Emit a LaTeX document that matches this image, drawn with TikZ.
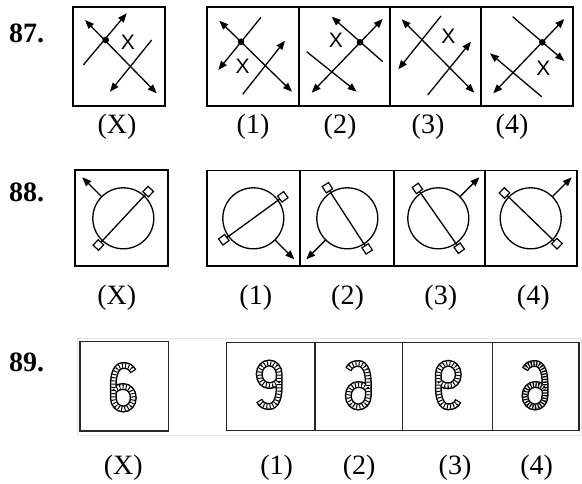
\documentclass[tikz,border=0pt]{standalone}
\usepackage{fontspec}
\setmainfont{Liberation Serif}
\newfontfamily\sansX{Liberation Sans}
\usetikzlibrary{arrows.meta}
\tikzset{
  boxl/.style={line width=1.6pt},
  ln/.style={line width=1.3pt},
  arr/.style={ln,-{Triangle[length=9pt,width=7pt]}},
  darr/.style={ln,{Triangle[length=9pt,width=7pt]}-{Triangle[length=9pt,width=7pt]}},
  qnum/.style={font=\fontsize{28}{28}\selectfont\bfseries,anchor=base west,inner sep=0},
  optlab/.style={font=\fontsize{28}{28}\selectfont,anchor=base,inner sep=0},
  xmark/.style={font=\sansX\fontsize{21}{21}\selectfont,inner sep=0},
  sq/.style={draw,fill=white,line width=1.2pt,minimum size=7.5pt,inner sep=0},
  sixp/.style={insert path={(10,15.5) .. controls (8,20) and (4.5,21.5) .. (0,21.5)
     .. controls (-7,21.5) and (-10,13) .. (-10,2) -- (-10,-10.75)
     .. controls (-10,-17.5) and (-5.5,-22) .. (0,-22)
     .. controls (5.5,-22) and (10,-17.5) .. (10,-10.75)
     .. controls (10,-4) and (5.5,0.5) .. (0,0.5)
     .. controls (-5,0.5) and (-8.5,-2) .. (-9.6,-4.5)}},
  gbox/.style={line width=1.2pt,draw=black!85}
}
\newcommand\ringfig[4]{%
  \coordinate (c) at (#1,#2);
  \draw[ln] (c) circle (30.5pt);
  \path (c) ++(#3:36.5) coordinate (p1);
  \path (c) ++(#3+180:36.5) coordinate (p2);
  \draw[ln] (p1) -- (p2);
  \node[sq,rotate=#3] at (p1) {};
  \node[sq,rotate=#3] at (p2) {};
  \path (c) ++(#4:30.5) coordinate (a1);
  \path (c) ++(#4:58) coordinate (a2);
  \draw[arr] (a1) -- (a2);
}
\newcommand\sixglyph[3]{%
  \begin{scope}[shift={(#1)},#2]
    \draw[line width=7pt,black,sixp];
    \draw[line width=4pt,white,sixp];
    \draw[line width=4pt,black,#3,sixp];
  \end{scope}
}
\begin{document}
\begin{tikzpicture}[x=1pt,y=1pt]
\useasboundingbox (0,0) rectangle (582,-483);
% ---------- 87 ----------
\node[qnum] (n87) at (9,-42) {87.};
\draw[boxl] (73,-7) rectangle (165,-106);
\draw[darr] (85,-20) -- (156.7,-93.3);
\draw[arr] (83.3,-65) -- (126.7,-13.3);
\draw[arr] (151.7,-40) -- (110,-91.7);
\fill (105.7,-40) circle (3.3pt);
\node[xmark] at (128,-42) {X};
\node[optlab] at (117,-133) {(X)};

\draw[boxl] (207,-7) rectangle (299,-106);
\draw[boxl] (299,-7) rectangle (390,-106);
\draw[boxl] (390,-7) rectangle (481,-106);
\draw[boxl] (481,-7) rectangle (573,-106);
% 1
\draw[darr] (219.3,-20.7) -- (292,-91.7);
\draw[arr] (261,-17.3) -- (218.3,-70);
\draw[arr] (242.7,-94.3) -- (285,-40.7);
\fill (241,-41.7) circle (3.3pt);
\node[xmark] at (242.7,-66) {X};
% 2
\draw[arr] (382.7,-61.7) -- (331.7,-16.7);
\draw[darr] (311.7,-92.7) -- (382.7,-19);
\draw[arr] (306.7,-51.7) -- (356.7,-91.7);
\fill (360,-42.3) circle (3.3pt);
\node[xmark] at (336,-40) {X};
% 3
\draw[darr] (401.7,-19.3) -- (474.3,-92.7);
\draw[arr] (441,-16) -- (398.3,-69.3);
\draw[arr] (427.7,-95) -- (471,-41.7);
\node[xmark] at (448.3,-36.7) {X};
% 4
\draw[arr] (512.7,-16.7) -- (564.3,-61);
\draw[darr] (493.3,-93.3) -- (564.3,-19);
\draw[arr] (541.7,-96.7) -- (490,-53.3);
\fill (542.3,-42.3) circle (3.3pt);
\node[xmark] at (543.3,-68.3) {X};
\node[optlab] at (253,-133) {(1)};
\node[optlab] at (340,-133) {(2)};
\node[optlab] at (428,-133) {(3)};
\node[optlab] at (512,-133) {(4)};
% ---------- 88 ----------
\node[qnum] (n88) at (9,-201.5) {88.};
\draw[boxl] (75,-170) rectangle (168,-266);
\ringfig{123.3}{-218.3}{47}{135}
\node[optlab] at (116.7,-304) {(X)};
\draw[boxl] (207,-170.5) rectangle (300,-266);
\draw[boxl] (300,-170.5) rectangle (394,-266);
\draw[boxl] (394,-170.5) rectangle (485,-266);
\draw[boxl] (485,-170.5) rectangle (577,-266);
\ringfig{253.3}{-218.3}{36}{-45}
\ringfig{347.3}{-218.3}{123}{-135}
\ringfig{438.3}{-218.3}{125}{45}
\ringfig{530.7}{-218.3}{136}{45}
\node[optlab] at (255.8,-304) {(1)};
\node[optlab] at (347.5,-304) {(2)};
\node[optlab] at (440.8,-304) {(3)};
\node[optlab] at (533.3,-304) {(4)};
% ---------- 89 ----------
\node[qnum] (n89) at (9,-371.5) {89.};
\draw[line width=0.6pt,black!10] (77,-338) rectangle (581.5,-435);
\draw[gbox] (80,-341.7) rectangle (168.3,-431);
\draw[gbox] (226.7,-342.3) rectangle (315,-430.7);
\draw[gbox] (315,-342.3) rectangle (402.7,-430.7);
\draw[gbox] (402.7,-342.3) rectangle (492.3,-430.7);
\draw[gbox] (492.3,-342.3) rectangle (579,-430.7);
\sixglyph{123.3,-387}{}{dash pattern=on 1pt off 2.2pt}
\sixglyph{269.2,-385}{rotate=180}{dash pattern=on 1pt off 2.2pt}
\sixglyph{358.3,-385}{xscale=-1}{dash pattern=on 1pt off 2.2pt}
\sixglyph{448.3,-385.3}{yscale=-1}{dash pattern=on 1pt off 2.2pt}
\sixglyph{535,-385}{xscale=-1}{dash pattern=on 1.3pt off 1.4pt}
\node[optlab] at (123.3,-474) {(X)};
\node[optlab] at (276.7,-474) {(1)};
\node[optlab] at (359.2,-474) {(2)};
\node[optlab] at (455,-474) {(3)};
\node[optlab] at (536.7,-474) {(4)};
\end{tikzpicture}
\end{document}
